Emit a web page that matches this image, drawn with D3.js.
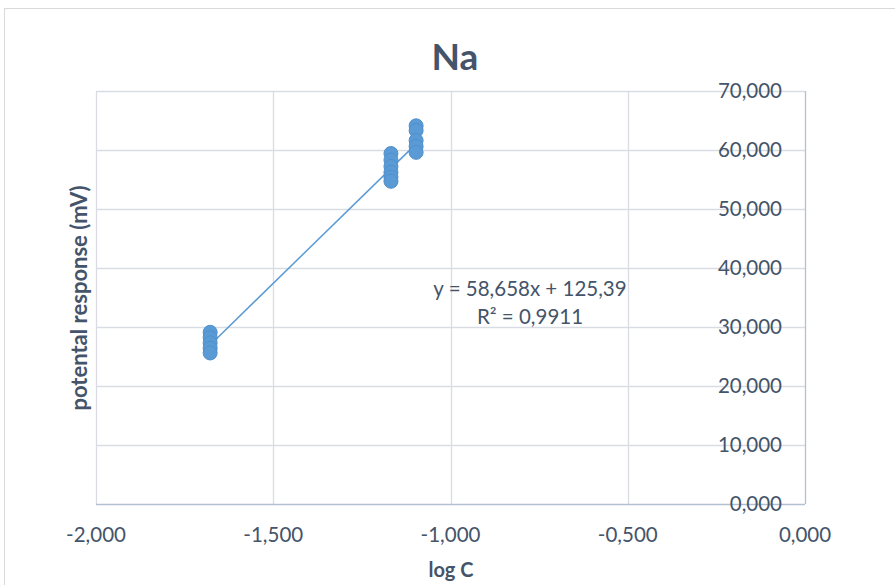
<!DOCTYPE html>
<html><head><meta charset="utf-8">
<script src="https://cdn.jsdelivr.net/npm/d3@7"></script>
<style>body{margin:0;background:#fff;}svg{display:block;}</style>
</head><body>
<script>
// data
const xTicks = [-2, -1.5, -1, -0.5, 0];
const yTicks = [0, 10, 20, 30, 40, 50, 60, 70];
const xValues = [-1.678,-1.678,-1.678,-1.678,-1.678,
                 -1.168,-1.168,-1.168,-1.168,-1.168,-1.168,
                 -1.097,-1.097,-1.097,-1.097,-1.097];
const yValues = [29.1,28.2,27.3,26.4,25.6,
                 59.4,58.3,57.2,56.2,55.4,54.7,
                 64.1,63.3,61.6,60.6,59.6];
const trendSlope = 58.658;
const trendIntercept = 125.39;
const equationLines = ["y = 58,658x + 125,39", "R² = 0,9911"];
const title = "Na";
const xTitle = "log C";
const yTitle = "potental response (mV)";

const W = 895, H = 585;
const font = "Lato, 'Open Sans', sans-serif";
const textColor = "#44546a";
const svg = d3.select("body").append("svg").attr("width", W).attr("height", H);
svg.append("rect").attr("x", 4.5).attr("y", 8.5).attr("width", W).attr("height", H)
  .attr("fill", "#fff").attr("stroke", "#d9d9d9");

const x = d3.scaleLinear().domain([-2, 0]).range([96, 805]);
const y = d3.scaleLinear().domain([0, 70]).range([504, 91]);
const fmt = v => d3.format(".3f")(v).replace(".", ",").replace("−", "-");

// gridlines
const g = svg.append("g");
g.selectAll("line.vx").data(xTicks.slice(0, -1)).join("line")
  .attr("x1", d => Math.round(x(d)) + 0.5).attr("x2", d => Math.round(x(d)) + 0.5)
  .attr("y1", y(70)).attr("y2", y(0)).attr("stroke", "#d9dde3").attr("stroke-width", 1.3);
g.selectAll("line.hy").data(yTicks.slice(1)).join("line")
  .attr("y1", d => Math.round(y(d)) + 0.5).attr("y2", d => Math.round(y(d)) + 0.5)
  .attr("x1", x(-2)).attr("x2", x(0)).attr("stroke", "#d9dde3").attr("stroke-width", 1.3);

// axes lines
svg.append("line").attr("x1", x(-2)).attr("x2", x(0)).attr("y1", y(0)+0.5).attr("y2", y(0)+0.5)
  .attr("stroke", "#b4bfd1").attr("stroke-width", 1.3);
svg.append("line").attr("x1", x(0)+0.5).attr("x2", x(0)+0.5).attr("y1", y(70)).attr("y2", y(0))
  .attr("stroke", "#b4bfd1").attr("stroke-width", 1.3);

// tick labels
svg.append("g").selectAll("text").data(xTicks).join("text")
  .attr("x", d => x(d)).attr("y", 542).attr("text-anchor", "middle")
  .attr("font-family", font).attr("font-size", 20.5).attr("fill", textColor).text(fmt);
svg.append("g").selectAll("text").data(yTicks).join("text")
  .attr("x", 782).attr("y", d => y(d) + 7).attr("text-anchor", "end")
  .attr("font-family", font).attr("font-size", 20.5).attr("fill", textColor).text(fmt);

// trendline
const xr = d3.extent(xValues);
svg.append("line").attr("x1", x(xr[0])).attr("y1", y(trendSlope*xr[0]+trendIntercept))
  .attr("x2", x(xr[1])).attr("y2", y(trendSlope*xr[1]+trendIntercept))
  .attr("stroke", "#5b9bd5").attr("stroke-width", 1.5);

// points
svg.append("g").selectAll("circle").data(xValues.map((v,i)=>[v,yValues[i]])).join("circle")
  .attr("cx", d => x(d[0])).attr("cy", d => y(d[1])).attr("r", 7)
  .attr("fill", "#5b9bd5").attr("stroke", "#4f8fcc").attr("stroke-width", 1);

// equation
svg.append("g").selectAll("text").data(equationLines).join("text")
  .attr("x", 530).attr("y", (d,i) => 296 + i*28).attr("text-anchor", "middle")
  .attr("font-family", font).attr("font-size", 20.5).attr("fill", textColor).text(d => d);

// titles
svg.append("text").attr("x", 455).attr("y", 70).attr("text-anchor", "middle")
  .attr("font-family", font).attr("font-weight", "bold").attr("font-size", 37)
  .attr("fill", textColor).text(title);
svg.append("text").attr("x", 451).attr("y", 577).attr("text-anchor", "middle")
  .attr("font-family", font).attr("font-weight", "bold").attr("font-size", 20)
  .attr("fill", textColor).text(xTitle);
svg.append("text").attr("transform", "translate(87,298) rotate(-90)").attr("text-anchor", "middle")
  .attr("font-family", font).attr("font-weight", "bold").attr("font-size", 22)
  .attr("fill", textColor).text(yTitle);
</script>
</body></html>
